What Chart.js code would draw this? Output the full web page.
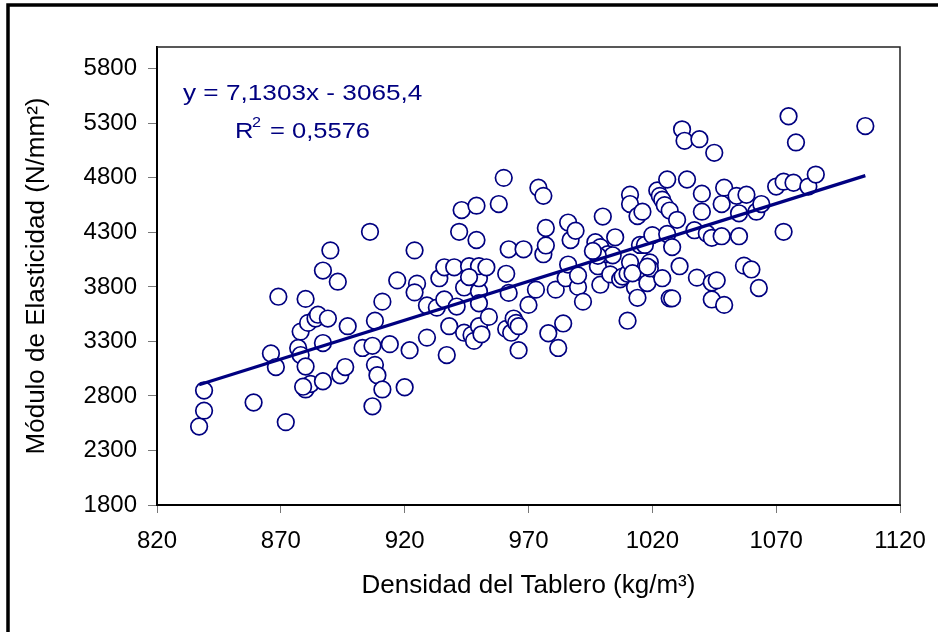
<!DOCTYPE html>
<html lang="es">
<head>
  <meta charset="utf-8">
  <title>Densidad vs Módulo de Elasticidad</title>
  <style>
    html, body { margin: 0; padding: 0; background: #fff; }
    #wrap { width: 938px; height: 632px; }
  </style>
</head>
<body>
<div id="wrap"><canvas id="scatterChart" width="938" height="632"></canvas></div>

<script src="https://cdn.jsdelivr.net/npm/chart.js"></script>
<script>
// densidad del tablero (kg/m3) y módulo de elasticidad (N/mm2)
const densidad = [
  837, 839, 839, 859, 872, 866, 868, 869, 878, 877, 878, 880, 880, 880, 882, 881, 884, 885, 887, 887,
  887, 889, 890, 893, 894, 896, 897, 903, 906, 907, 908, 909, 907, 911, 908, 911, 914, 917, 920, 922,
  924, 925, 924, 929, 929, 933, 934, 936, 936, 937, 938, 940, 941, 942, 943, 944, 944, 946, 947, 948,
  949, 949, 950, 950, 950, 950, 951, 953, 954, 958, 960, 961, 962, 961, 962, 963, 964, 965, 966, 966,
  968, 970, 973, 974, 976, 976, 977, 977, 978, 981, 982, 984, 985, 986, 986, 987, 989, 990, 990, 992,
  997, 998, 999, 1000, 999, 1002, 1003, 1004, 1005, 1007, 1008, 1010, 1010, 1011, 1011, 1011, 1013, 1014, 1014, 1016,
  1015, 1017, 1018, 1019, 1019, 1020, 1022, 1023, 1024, 1024, 1025, 1026, 1027, 1026, 1027, 1028, 1028, 1030, 1031, 1032,
  1033, 1034, 1037, 1038, 1039, 1040, 1040, 1042, 1044, 1044, 1044, 1045, 1046, 1048, 1048, 1049, 1049, 1054, 1055, 1055,
  1057, 1058, 1060, 1062, 1063, 1064, 1070, 1073, 1073, 1075, 1077, 1078, 1083, 1086, 1106,
  998, 996, 1012, 1018, 946, 950, 879
];
const modulo = [
  2520, 2665, 2850, 2740, 2560, 3190, 3065, 3710, 3390, 3240, 3175, 3070, 3690, 2860, 2910, 3470, 3510, 3545, 2935, 3950,
  3285, 3510, 4135, 3848, 2990, 3065, 3440, 3240, 4305, 3260, 3085, 2990, 2705, 2860, 3490, 3665, 3275, 3860, 2880, 3220,
  4135, 3830, 3750, 3335, 3630, 3610, 3880, 3685, 3980, 3175, 3440, 3980, 3620, 4305, 4505, 3795, 3380, 3990, 3360, 3305,
  4230, 4545, 3440, 3760, 3880, 3990, 3365, 3980, 3525, 4560, 4800, 3920, 3745, 3415, 4145, 3380, 3510, 3470, 3440, 3220,
  4145, 3635, 3775, 4710, 4100, 4635, 4340, 4180, 3375, 3775, 3240, 3465, 3880, 4390, 4005, 4230, 4315, 3800, 3905, 3665,
  4210, 3990, 3820, 4445, 4165, 4100, 3915, 4090, 4255, 3870, 3895, 3920, 3490, 4645, 4560, 4025, 3795, 3700, 4450, 4490,
  4185, 4185, 3835, 4025, 3970, 4275, 4685, 4635, 4600, 3880, 4550, 4785, 4500, 4285, 3695, 3695, 4165, 4415, 3990, 5245,
  5140, 4785, 4320, 3885, 5155, 4655, 4490, 4290, 4250, 3685, 3840, 5030, 3860, 4560, 4265, 4710, 3635, 4635, 4265, 4475,
  3995, 4645, 3960, 4490, 3790, 4560, 4720, 4305, 4765, 5365, 4755, 5125, 4720, 4830, 5275,
  4085, 4130, 3925, 3985, 3890, 3650, 2885
];

const xTicks = [820, 870, 920, 970, 1020, 1070, 1120];
const yTicks = [1800, 2300, 2800, 3300, 3800, 4300, 4800, 5300, 5800];

// línea de tendencia lineal
const pendiente = 7.1303;
const intercepto = -3065.4;
const tendenciaDesde = 837;
const tendenciaHasta = 1106;
const ecuacion = "y = 7,1303x - 3065,4";
const r2Valor = "= 0,5576";

const fam = "'Liberation Sans', Arial, sans-serif";
const azul = "#000080";

const puntos = densidad.map((d, i) => ({ x: d, y: modulo[i] }));
const tendencia = [tendenciaDesde, tendenciaHasta].map(x => ({ x: x, y: pendiente * x + intercepto }));

// escribe un texto estirado en horizontal, como en la hoja original
function texto(ctx, s, x, y, size, sx) {
  ctx.save();
  ctx.font = size + "px " + fam;
  ctx.translate(x, y);
  ctx.scale(sx, 1);
  ctx.fillText(s, 0, 0);
  ctx.restore();
}

// marco exterior, borde del área de trazado y texto de la ecuación
const decoracion = {
  id: "decoracion",
  beforeDraw(chart) {
    const ctx = chart.ctx;
    ctx.save();
    ctx.fillStyle = "#fff";
    ctx.fillRect(0, 0, chart.width, chart.height);
    ctx.restore();
  },
  beforeDatasetsDraw(chart) {
    const ctx = chart.ctx;
    const a = chart.chartArea;
    ctx.save();
    ctx.strokeStyle = "#222";
    ctx.lineWidth = 1.5;
    ctx.beginPath();
    ctx.moveTo(a.left, a.top);
    ctx.lineTo(a.right, a.top);
    ctx.lineTo(a.right, a.bottom);
    ctx.stroke();
    ctx.restore();
  },
  afterDraw(chart) {
    const ctx = chart.ctx;
    ctx.save();
    // marco negro del gráfico
    ctx.strokeStyle = "#000";
    ctx.lineWidth = 3.5;
    ctx.beginPath();
    ctx.moveTo(8, chart.height);
    ctx.lineTo(8, 5);
    ctx.lineTo(chart.width, 5);
    ctx.stroke();

    ctx.fillStyle = azul;
    ctx.textBaseline = "alphabetic";
    texto(ctx, ecuacion, 183, 100, 22, 1.19);
    texto(ctx, "R", 235, 138, 22, 1.16);
    texto(ctx, "2", 252, 127, 14, 1.16);
    texto(ctx, r2Valor, 270, 138, 22, 1.16);
    ctx.restore();
  }
};

new Chart(document.getElementById("scatterChart"), {
  type: "scatter",
  data: {
    datasets: [
      {
        label: "Tendencia",
        data: tendencia,
        showLine: true,
        borderColor: azul,
        borderWidth: 3.2,
        pointRadius: 0,
        order: 0
      },
      {
        label: "MOE",
        data: puntos,
        pointRadius: 8.3,
        pointBorderWidth: 1.7,
        borderColor: azul,
        backgroundColor: "#fff",
        order: 1
      }
    ]
  },
  options: {
    responsive: false,
    animation: false,
    layout: { autoPadding: false, padding: { top: 47, right: 38, left: 0, bottom: 0 } },
    plugins: {
      legend: { display: false },
      tooltip: { enabled: false }
    },
    scales: {
      x: {
        type: "linear",
        min: 820,
        max: 1120,
        afterBuildTicks: s => { s.ticks = xTicks.map(v => ({ value: v })); },
        afterFit: s => { s.height = 127; s.paddingLeft = 0; s.paddingRight = 0; },
        grid: { drawOnChartArea: false, drawTicks: true, tickLength: 8, tickColor: "#777", tickWidth: 1 },
        border: { display: true, color: "#000", width: 2 },
        ticks: {
          color: "#000", font: { family: fam, size: 24 }, padding: 14, maxRotation: 0, autoSkip: false,
          callback: v => String(v)
        },
        title: {
          display: true,
          text: "Densidad del Tablero (kg/m³)",
          color: "#000",
          font: { family: fam, size: 26 },
          padding: { top: 0, bottom: 31 }
        }
      },
      y: {
        type: "linear",
        min: 1800,
        max: 6000,
        afterBuildTicks: s => { s.ticks = yTicks.map(v => ({ value: v })); },
        afterFit: s => { s.width = 157; s.paddingTop = 0; s.paddingBottom = 0; },
        grid: { drawOnChartArea: false, drawTicks: true, tickLength: 9, tickColor: "#777", tickWidth: 1 },
        border: { display: true, color: "#000", width: 2 },
        ticks: {
          color: "#000", font: { family: fam, size: 24 }, padding: 11, autoSkip: false,
          callback: v => String(v)
        },
        title: {
          display: true,
          text: "Módulo de Elasticidad (N/mm²)",
          color: "#000",
          font: { family: fam, size: 26 },
          padding: { top: 21, bottom: 0 }
        }
      }
    }
  },
  plugins: [decoracion]
});
</script>
</body>
</html>
